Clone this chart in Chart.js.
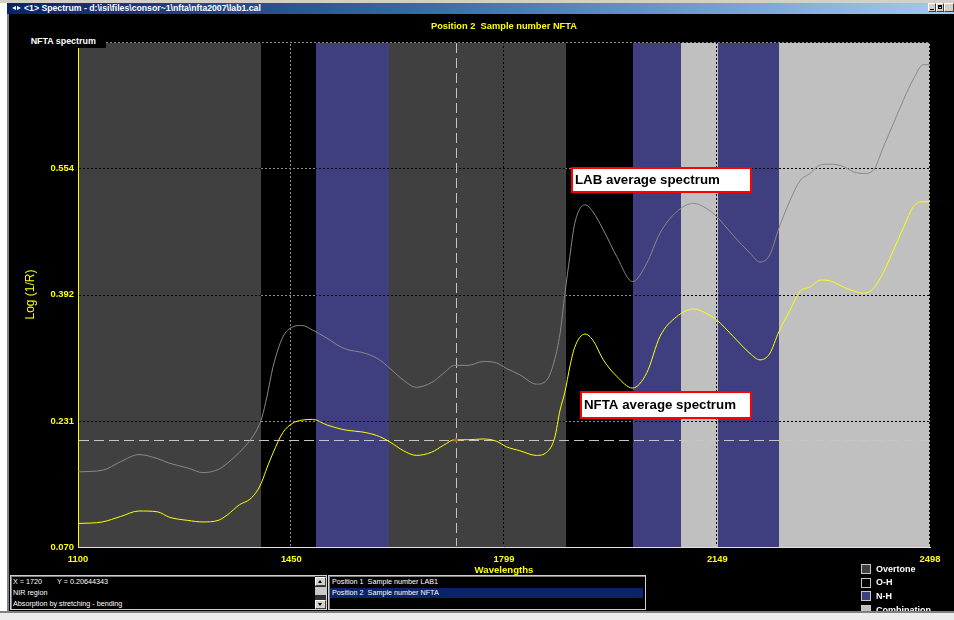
<!DOCTYPE html>
<html>
<head>
<meta charset="utf-8">
<title>Spectrum</title>
<script src="https://cdn.jsdelivr.net/npm/chart.js@4/dist/chart.umd.min.js"></script>
<style>
  html, body { margin:0; padding:0; width:954px; height:620px; overflow:hidden; background:#000;
               font-family:'Liberation Sans', Arial, sans-serif; }
  #win { position:absolute; left:0; top:0; width:954px; height:620px; background:#000; overflow:hidden; }
  #plot { position:absolute; left:0; top:0; }
  .abs { position:absolute; }
  #leftEdge { left:0; top:0; width:7px; height:620px; background:#fff; }
  #leftLine { left:7px; top:14px; width:2px; height:597px; background:#808080; }
  #topEdge { left:0; top:0; width:954px; height:3px; background:#d4d0c8; }
  #caption { left:7px; top:3px; width:947px; height:11px;
             background:linear-gradient(to right, #0a246a 0%, #3a6ea5 45%, #a6caf0 100%); }
  #captionText { left:24px; top:3px; height:11px; line-height:11px; font-size:8.7px; font-weight:bold;
                 color:#fff; white-space:pre; }
  .tri { width:0; height:0; border-top:2.5px solid transparent; border-bottom:2.5px solid transparent; }
  .capBtn { top:3px; width:8px; height:9px; box-sizing:border-box; background:#d4d0c8;
            border:1px solid; border-color:#fff #404040 #404040 #fff; }
  #bottomEdge { left:0; top:611px; width:954px; height:2px; background:#808080; }
  #bottomFill { left:0; top:613px; width:954px; height:7px; background:#ececec; }
  #heading { left:78px; top:21.3px; width:852px; text-align:center; line-height:11px; font-size:9.3px;
             font-weight:bold; color:#ffff00; white-space:pre; }
  #specLabel { left:20px; top:32px; width:86px; height:16px; background:#000; }
  #specLabelText { left:30.7px; top:35.7px; line-height:11px; font-size:8.9px; font-weight:bold; color:#fff; white-space:pre; }
  .panel { top:575px; height:35px; box-sizing:border-box; border:1px solid #d0d0d0;
           box-shadow: inset 1px 1px 0 #808080; background:#000; }
  .stat { line-height:11px; font-size:8px; color:#fff; white-space:pre; transform:scaleX(0.9); transform-origin:0 50%; }
  .sbBtn { left:315px; width:11px; height:9px; box-sizing:border-box; background:#d4d0c8;
           border:1px solid; border-color:#fff #404040 #404040 #fff; }
  .legSwatch { left:861px; width:10px; height:10px; box-sizing:border-box; border:1px solid #c8c8c8; }
  .legText { left:876px; line-height:11px; font-size:9px; font-weight:bold; color:#fff; white-space:pre; }
</style>
</head>
<body>
<div id="win">
  <canvas id="plot" width="954" height="620"></canvas>

  <div id="specLabel" class="abs"></div>
  <div id="specLabelText" class="abs">NFTA spectrum</div>
  <div id="heading" class="abs"></div>

  <div id="panelInfo" class="abs panel" style="left:10px; width:317px;"></div>
  <div class="abs" style="left:315px; top:576px; width:11px; height:33px; background:#303030;"></div>
  <div class="abs sbBtn" style="top:577px;"><div class="abs tri" style="left:2px; top:2px; border:0; border-left:2.5px solid transparent; border-right:2.5px solid transparent; border-bottom:3px solid #000;"></div></div>
  <div class="abs" style="left:315px; top:587px; width:11px; height:8px; background:#c8c8c8;"></div>
  <div class="abs sbBtn" style="top:600px;"><div class="abs tri" style="left:2px; top:2px; border:0; border-left:2.5px solid transparent; border-right:2.5px solid transparent; border-top:3px solid #000;"></div></div>
  <div id="statX" class="abs stat" style="left:13px; top:575.8px;"></div>
  <div id="statY" class="abs stat" style="left:57px; top:575.8px;"></div>
  <div class="abs stat" style="left:13px; top:587px;">NIR region</div>
  <div class="abs stat" style="left:13px; top:598px;">Absorption by stretching - bending</div>

  <div id="panelSamples" class="abs panel" style="left:328px; width:318px;"></div>
  <div class="abs" style="left:330px; top:588px; width:313px; height:10px; background:#0a246a;"></div>
  <div id="sampleRows"></div>

  <div id="legend"></div>

  <div id="leftEdge" class="abs"></div>
  <div id="leftLine" class="abs"></div>
  <div id="bottomEdge" class="abs"></div>
  <div id="bottomFill" class="abs"></div>
  <div id="topEdge" class="abs"></div>
  <div id="caption" class="abs"></div>
  <div class="abs tri" style="left:12px; top:6px; border-right:4px solid #fff;"></div>
  <div class="abs tri" style="left:17px; top:6px; border-left:4px solid #fff;"></div>
  <div id="captionText" class="abs">&lt;1&gt; Spectrum - d:\isi\files\consor~1\nfta\nfta2007\lab1.cal</div>
  <div class="abs capBtn" style="left:928px;"><div class="abs" style="left:1px; top:5px; width:4px; height:1px; background:#000;"></div></div>
  <div class="abs capBtn" style="left:936px;"><div class="abs" style="left:1px; top:1px; width:4px; height:4px; box-sizing:border-box; border:1px solid #000; border-top-width:2px;"></div></div>
  <div class="abs capBtn" style="left:944px; width:10px;"></div>
</div>

<script>
// Wavelength grid (nm) and the two average spectra, Log(1/R)
const wavelengths = [
  1100, 1140, 1170, 1200, 1230, 1250, 1280, 1305, 1330, 1345,
  1365, 1382, 1395, 1402, 1410, 1420, 1436, 1452, 1467, 1485,
  1508, 1535, 1573, 1595, 1612, 1634, 1655, 1680, 1700, 1718,
  1740, 1765, 1787, 1803, 1825, 1852, 1869, 1882, 1891, 1899,
  1907, 1915, 1932, 1945, 1962, 1984, 2010, 2033, 2055, 2082,
  2110, 2132, 2148, 2175, 2203, 2219, 2235, 2250, 2268, 2285,
  2301, 2318, 2334, 2356, 2373, 2389, 2405, 2421, 2438, 2455,
  2471, 2487, 2498
];
const labSpectrum = [
  0.166, 0.168, 0.179, 0.188, 0.183, 0.177, 0.171, 0.165, 0.169, 0.177,
  0.191, 0.206, 0.222, 0.236, 0.262, 0.300, 0.338, 0.351, 0.353, 0.347,
  0.337, 0.324, 0.317, 0.309, 0.298, 0.283, 0.274, 0.280, 0.292, 0.302,
  0.302, 0.307, 0.305, 0.298, 0.290, 0.278, 0.283, 0.309, 0.343, 0.394,
  0.441, 0.483, 0.507, 0.498, 0.475, 0.441, 0.409, 0.432, 0.471, 0.498,
  0.509, 0.502, 0.492, 0.468, 0.445, 0.434, 0.443, 0.477, 0.512, 0.538,
  0.547, 0.558, 0.559, 0.556, 0.549, 0.547, 0.551, 0.580, 0.611, 0.642,
  0.668, 0.686, 0.686
];
const nftaSpectrum = [
  0.100, 0.102, 0.109, 0.116, 0.115, 0.108, 0.104, 0.102, 0.104, 0.111,
  0.124, 0.131, 0.143, 0.154, 0.171, 0.190, 0.216, 0.228, 0.232, 0.233,
  0.226, 0.220, 0.216, 0.211, 0.204, 0.193, 0.187, 0.191, 0.200, 0.207,
  0.207, 0.208, 0.205, 0.198, 0.193, 0.187, 0.191, 0.209, 0.245, 0.268,
  0.300, 0.325, 0.342, 0.334, 0.309, 0.288, 0.273, 0.292, 0.339, 0.364,
  0.374, 0.368, 0.360, 0.339, 0.317, 0.309, 0.317, 0.345, 0.372, 0.397,
  0.402, 0.411, 0.410, 0.402, 0.397, 0.394, 0.400, 0.420, 0.449, 0.479,
  0.505, 0.511, 0.511
];

// Axis ticks
const xTickValues = [1100, 1450, 1799, 2149, 2498];
const yTickValues = [0.070, 0.231, 0.392, 0.554];
const xMin = 1100, xMax = 2498;
const yMin = 0.070, yMax = 0.715;

// Absorption regions along the wavelength axis
const bandStart = [1100, 1400, 1490, 1610, 1900, 2010, 2090, 2150, 2250];
const bandEnd   = [1400, 1490, 1610, 1900, 2010, 2090, 2150, 2250, 2498];
const bandType  = ['Overtone', 'O-H', 'N-H', 'Overtone', 'O-H', 'N-H', 'Combination', 'N-H', 'Combination'];
const bandTypes = ['Overtone', 'O-H', 'N-H', 'Combination'];
const bandColors = ['#404040', '#000000', '#3f3f7f', '#c0c0c0'];

// Cursor position shown in the status panel
const cursorX = 1720;
const cursorY = 0.20644343;

// Samples loaded in the view
const samplePositions = [1, 2];
const sampleNames = ['LAB1', 'NFTA'];
const activeSample = 2;

const FAMILY = "'Liberation Sans', Arial, sans-serif";
const YELLOW = '#ffff00';

// ---- page text ----
document.getElementById('heading').textContent =
  'Position ' + activeSample + '  Sample number ' + sampleNames[samplePositions.indexOf(activeSample)];
document.getElementById('statX').textContent = 'X = ' + cursorX;
document.getElementById('statY').textContent = 'Y = ' + cursorY;

const rows = document.getElementById('sampleRows');
samplePositions.forEach((p, i) => {
  const d = document.createElement('div');
  d.className = 'abs stat';
  d.style.left = '332px';
  d.style.top = (575.8 + i * 11.5) + 'px';
  d.textContent = 'Position ' + p + '  Sample number ' + sampleNames[i];
  rows.appendChild(d);
});

const legend = document.getElementById('legend');
bandTypes.forEach((t, i) => {
  const cy = 569 + i * 13.7;
  const sw = document.createElement('div');
  sw.className = 'abs legSwatch';
  sw.style.top = (cy - 5) + 'px';
  sw.style.background = bandColors[i];
  legend.appendChild(sw);
  const tx = document.createElement('div');
  tx.className = 'abs legText';
  tx.style.top = (cy - 5.3) + 'px';
  tx.textContent = t;
  legend.appendChild(tx);
});

// ---- plugins ----
// Coloured absorption regions behind everything
const regionPlugin = {
  id: 'regions',
  beforeDraw(chart) {
    const { ctx, chartArea: a, scales: { x } } = chart;
    ctx.save();
    bandStart.forEach((s, i) => {
      const x0 = Math.round(x.getPixelForValue(s));
      const x1 = Math.round(x.getPixelForValue(bandEnd[i]));
      ctx.fillStyle = bandColors[bandTypes.indexOf(bandType[i])];
      ctx.fillRect(x0, a.top + 1, x1 - x0, a.bottom - a.top - 1);
    });
    ctx.restore();
  }
};

// Dotted grid and dashed cursor cross-hair
const gridPlugin = {
  id: 'dottedGrid',
  beforeDatasetsDraw(chart) {
    const { ctx, chartArea: a, scales: { x, y } } = chart;
    const hLines = yTickValues.slice(1).map(v => Math.round(y.getPixelForValue(v)) + 0.5);
    const vLines = xTickValues.slice(1).map(v => Math.round(x.getPixelForValue(v)) - 0.5);
    const topY = Math.round(a.top) + 0.5;

    const strokeAll = () => {
      ctx.beginPath();
      hLines.forEach(py => { ctx.moveTo(a.left + 1, py); ctx.lineTo(a.right, py); });
      vLines.forEach(px => { ctx.moveTo(px, a.top); ctx.lineTo(px, a.bottom - 1); });
      ctx.stroke();
    };

    ctx.save();
    ctx.lineWidth = 1;
    ctx.setLineDash([2, 2]);
    ctx.strokeStyle = '#000';
    strokeAll();

    // on the black O-H regions the dots show up as grey
    ctx.save();
    ctx.beginPath();
    bandStart.forEach((s, i) => {
      if (bandType[i] !== 'O-H') return;
      const x0 = x.getPixelForValue(s), x1 = x.getPixelForValue(bandEnd[i]);
      ctx.rect(x0, a.top, x1 - x0, a.bottom - a.top);
    });
    ctx.clip();
    ctx.lineDashOffset = 2;
    ctx.strokeStyle = '#8a8a8a';
    strokeAll();
    ctx.restore();

    // top frame line
    ctx.strokeStyle = '#8a8a8a';
    ctx.lineDashOffset = 0;
    ctx.beginPath();
    ctx.moveTo(a.left + 28, topY); ctx.lineTo(a.right, topY);
    ctx.stroke();

    // cursor cross-hair
    const cx = Math.round(x.getPixelForValue(cursorX)) + 0.5;
    const cy = Math.round(y.getPixelForValue(cursorY)) + 0.5;
    ctx.strokeStyle = '#c4c4c4';
    ctx.setLineDash([10, 5]);
    ctx.beginPath();
    ctx.moveTo(a.left + 1, cy); ctx.lineTo(a.right, cy);
    ctx.moveTo(cx, a.top + 1); ctx.lineTo(cx, a.bottom - 1);
    ctx.stroke();
    ctx.restore();
  }
};

// Boxed captions naming the two spectra
const calloutPlugin = {
  id: 'callouts',
  afterDatasetsDraw(chart, args, opts) {
    const { ctx, scales: { x, y } } = chart;
    ctx.save();
    opts.items.forEach(it => {
      const left = Math.round(x.getPixelForValue(it.x));
      const top = Math.round(y.getPixelForValue(it.y));
      ctx.fillStyle = '#ffffff';
      ctx.fillRect(left, top, it.w, it.h);
      ctx.strokeStyle = '#ff0000';
      ctx.lineWidth = 2;
      ctx.strokeRect(left + 1, top + 1, it.w - 2, it.h - 2);
      ctx.fillStyle = '#000000';
      ctx.font = 'bold 13.3px ' + FAMILY;
      ctx.textBaseline = 'alphabetic';
      ctx.fillText(it.text, left + 4, top + it.base);
    });
    ctx.restore();
  }
};

const tickFont = { family: FAMILY, weight: 'bold', size: 9.4 };

new Chart(document.getElementById('plot'), {
  type: 'line',
  data: {
    datasets: [
      {
        label: 'Cursor',
        type: 'scatter',
        data: [{ x: cursorX, y: cursorY }],
        pointStyle: 'rect',
        pointRadius: 2,
        backgroundColor: '#2fb52f',
        borderColor: '#e03030',
        borderWidth: 1
      },
      {
        label: 'NFTA average spectrum',
        data: wavelengths.map((w, i) => ({ x: w, y: nftaSpectrum[i] })),
        borderColor: '#ffff00',
        borderWidth: 1,
        pointRadius: 0,
        cubicInterpolationMode: 'monotone',
        fill: false
      },
      {
        label: 'LAB average spectrum',
        data: wavelengths.map((w, i) => ({ x: w, y: labSpectrum[i] })),
        borderColor: '#888888',
        borderWidth: 1,
        pointRadius: 0,
        cubicInterpolationMode: 'monotone',
        fill: false
      }
    ]
  },
  options: {
    responsive: false,
    animation: false,
    devicePixelRatio: 1,
    layout: { padding: { left: 8, right: 24, top: 42, bottom: 42 } },
    plugins: {
      legend: { display: false },
      tooltip: { enabled: false },
      title: { display: false },
      callouts: {
        items: [
          { text: 'LAB average spectrum', x: 1909, y: 0.5553, w: 181, h: 26, base: 17 },
          { text: 'NFTA average spectrum', x: 1924, y: 0.2692, w: 172, h: 28, base: 17.5 }
        ]
      }
    },
    scales: {
      x: {
        type: 'linear',
        min: xMin,
        max: xMax,
        afterBuildTicks: s => { s.ticks = xTickValues.map(v => ({ value: v })); },
        afterFit: s => { s.height = 31; },
        grid: { display: false, drawTicks: false },
        border: { display: true, color: YELLOW, width: 1 },
        ticks: {
          color: YELLOW, font: tickFont, padding: 7,
          maxRotation: 0, autoSkip: false,
          callback: v => String(v)
        },
        title: {
          display: true, text: 'Wavelengths', color: YELLOW,
          font: { family: FAMILY, weight: 'bold', size: 9.6 },
          padding: { top: 0, bottom: 2 }
        }
      },
      y: {
        type: 'linear',
        min: yMin,
        max: yMax,
        afterBuildTicks: s => { s.ticks = yTickValues.map(v => ({ value: v })); },
        afterFit: s => { s.width = 70; },
        grid: { display: false, drawTicks: false },
        border: { display: true, color: YELLOW, width: 1 },
        ticks: {
          color: YELLOW, font: tickFont, padding: 4,
          autoSkip: false,
          callback: v => Number(v).toFixed(3)
        },
        title: {
          display: true, text: 'Log (1/R)', color: YELLOW,
          font: { family: FAMILY, weight: 'normal', size: 12 },
          padding: { top: 15.5, bottom: 0 }
        }
      }
    }
  },
  plugins: [regionPlugin, gridPlugin, calloutPlugin]
});
</script>
</body>
</html>
